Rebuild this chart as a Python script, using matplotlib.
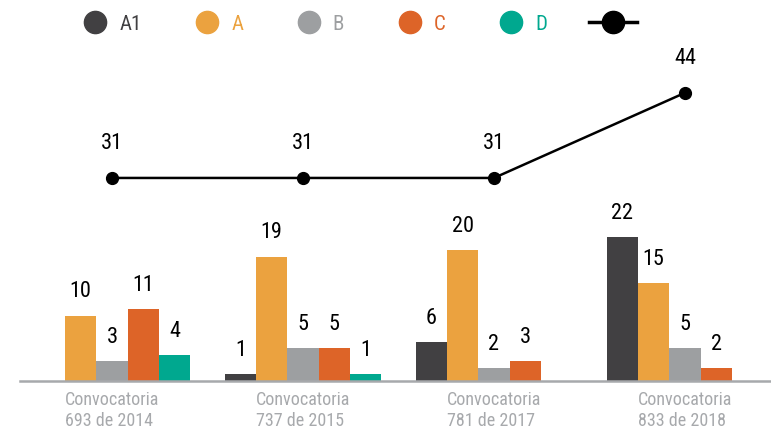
import matplotlib.pyplot as plt
from matplotlib.lines import Line2D
import numpy as np

# data
categories = ["Convocatoria\n693 de 2014", "Convocatoria\n737 de 2015",
              "Convocatoria\n781 de 2017", "Convocatoria\n833 de 2018"]
series_names = ["A1", "A", "B", "C", "D"]
a1_vals = [0, 1, 6, 22]
a_vals = [10, 19, 20, 15]
b_vals = [3, 5, 2, 5]
c_vals = [11, 5, 3, 2]
d_vals = [4, 1, 0, 0]
total_vals = [31, 31, 31, 44]

colors = ["#414042", "#EBA23F", "#9D9FA1", "#DD6428", "#00A88F"]
plt.rcParams['font.family'] = ['Roboto Condensed', 'DejaVu Sans']

fig = plt.figure(figsize=(7.71, 4.29), dpi=100)
ax = fig.add_axes([20 / 771, 0, 751 / 771, 1])

x = np.arange(len(categories))
width = 0.164
series = [a1_vals, a_vals, b_vals, c_vals, d_vals]
for i, vals in enumerate(series):
    pos = x + (i - 2) * width
    ax.bar(pos, vals, width, color=colors[i], zorder=2)
    for xp, v in zip(pos, vals):
        if v > 0:
            ax.annotate(str(v), (xp, v), xytext=(0, 9.5), textcoords='offset points',
                        ha='center', va='bottom', fontsize=16, color='black')

# total line on the same scale as the bars
ax.plot(x, total_vals, color='black', lw=1.8, marker='o', ms=8.5, zorder=3)
for xp, v in zip(x, total_vals):
    ax.annotate(str(v), (xp, v), xytext=(0, 17), textcoords='offset points',
                ha='center', va='bottom', fontsize=16, color='black')

ax.set_xlim(-0.4817, 3.4503)
ax.set_ylim(-48 / 6.55, 381 / 6.55)

for s in ['top', 'right', 'left']:
    ax.spines[s].set_visible(False)
ax.spines['bottom'].set_position(('data', 0))
ax.spines['bottom'].set_color('#A7A9AC')
ax.spines['bottom'].set_linewidth(1.8)
ax.set_yticks([])
ax.set_xticks(x)
ax.set_xticklabels(categories, fontsize=13, color='#A7A9AC', multialignment='left')
ax.tick_params(axis='x', length=0, pad=7)

handles = [Line2D([], [], ls='none', marker='o', ms=16, color=c) for c in colors]
handles.append(Line2D([], [], color='black', lw=2.5, marker='o', ms=16))
leg = ax.legend(handles, series_names + [''], ncol=6, loc='center left',
                bbox_to_anchor=((71.5 - 20) / 751, 1 - 24 / 429), frameon=False,
                fontsize=15, handlelength=2.3, handletextpad=0.0, columnspacing=2.0,
                borderpad=0, borderaxespad=0)
for t, c in zip(leg.get_texts(), colors):
    t.set_color(c)

fig.savefig('out.png', dpi=100)
